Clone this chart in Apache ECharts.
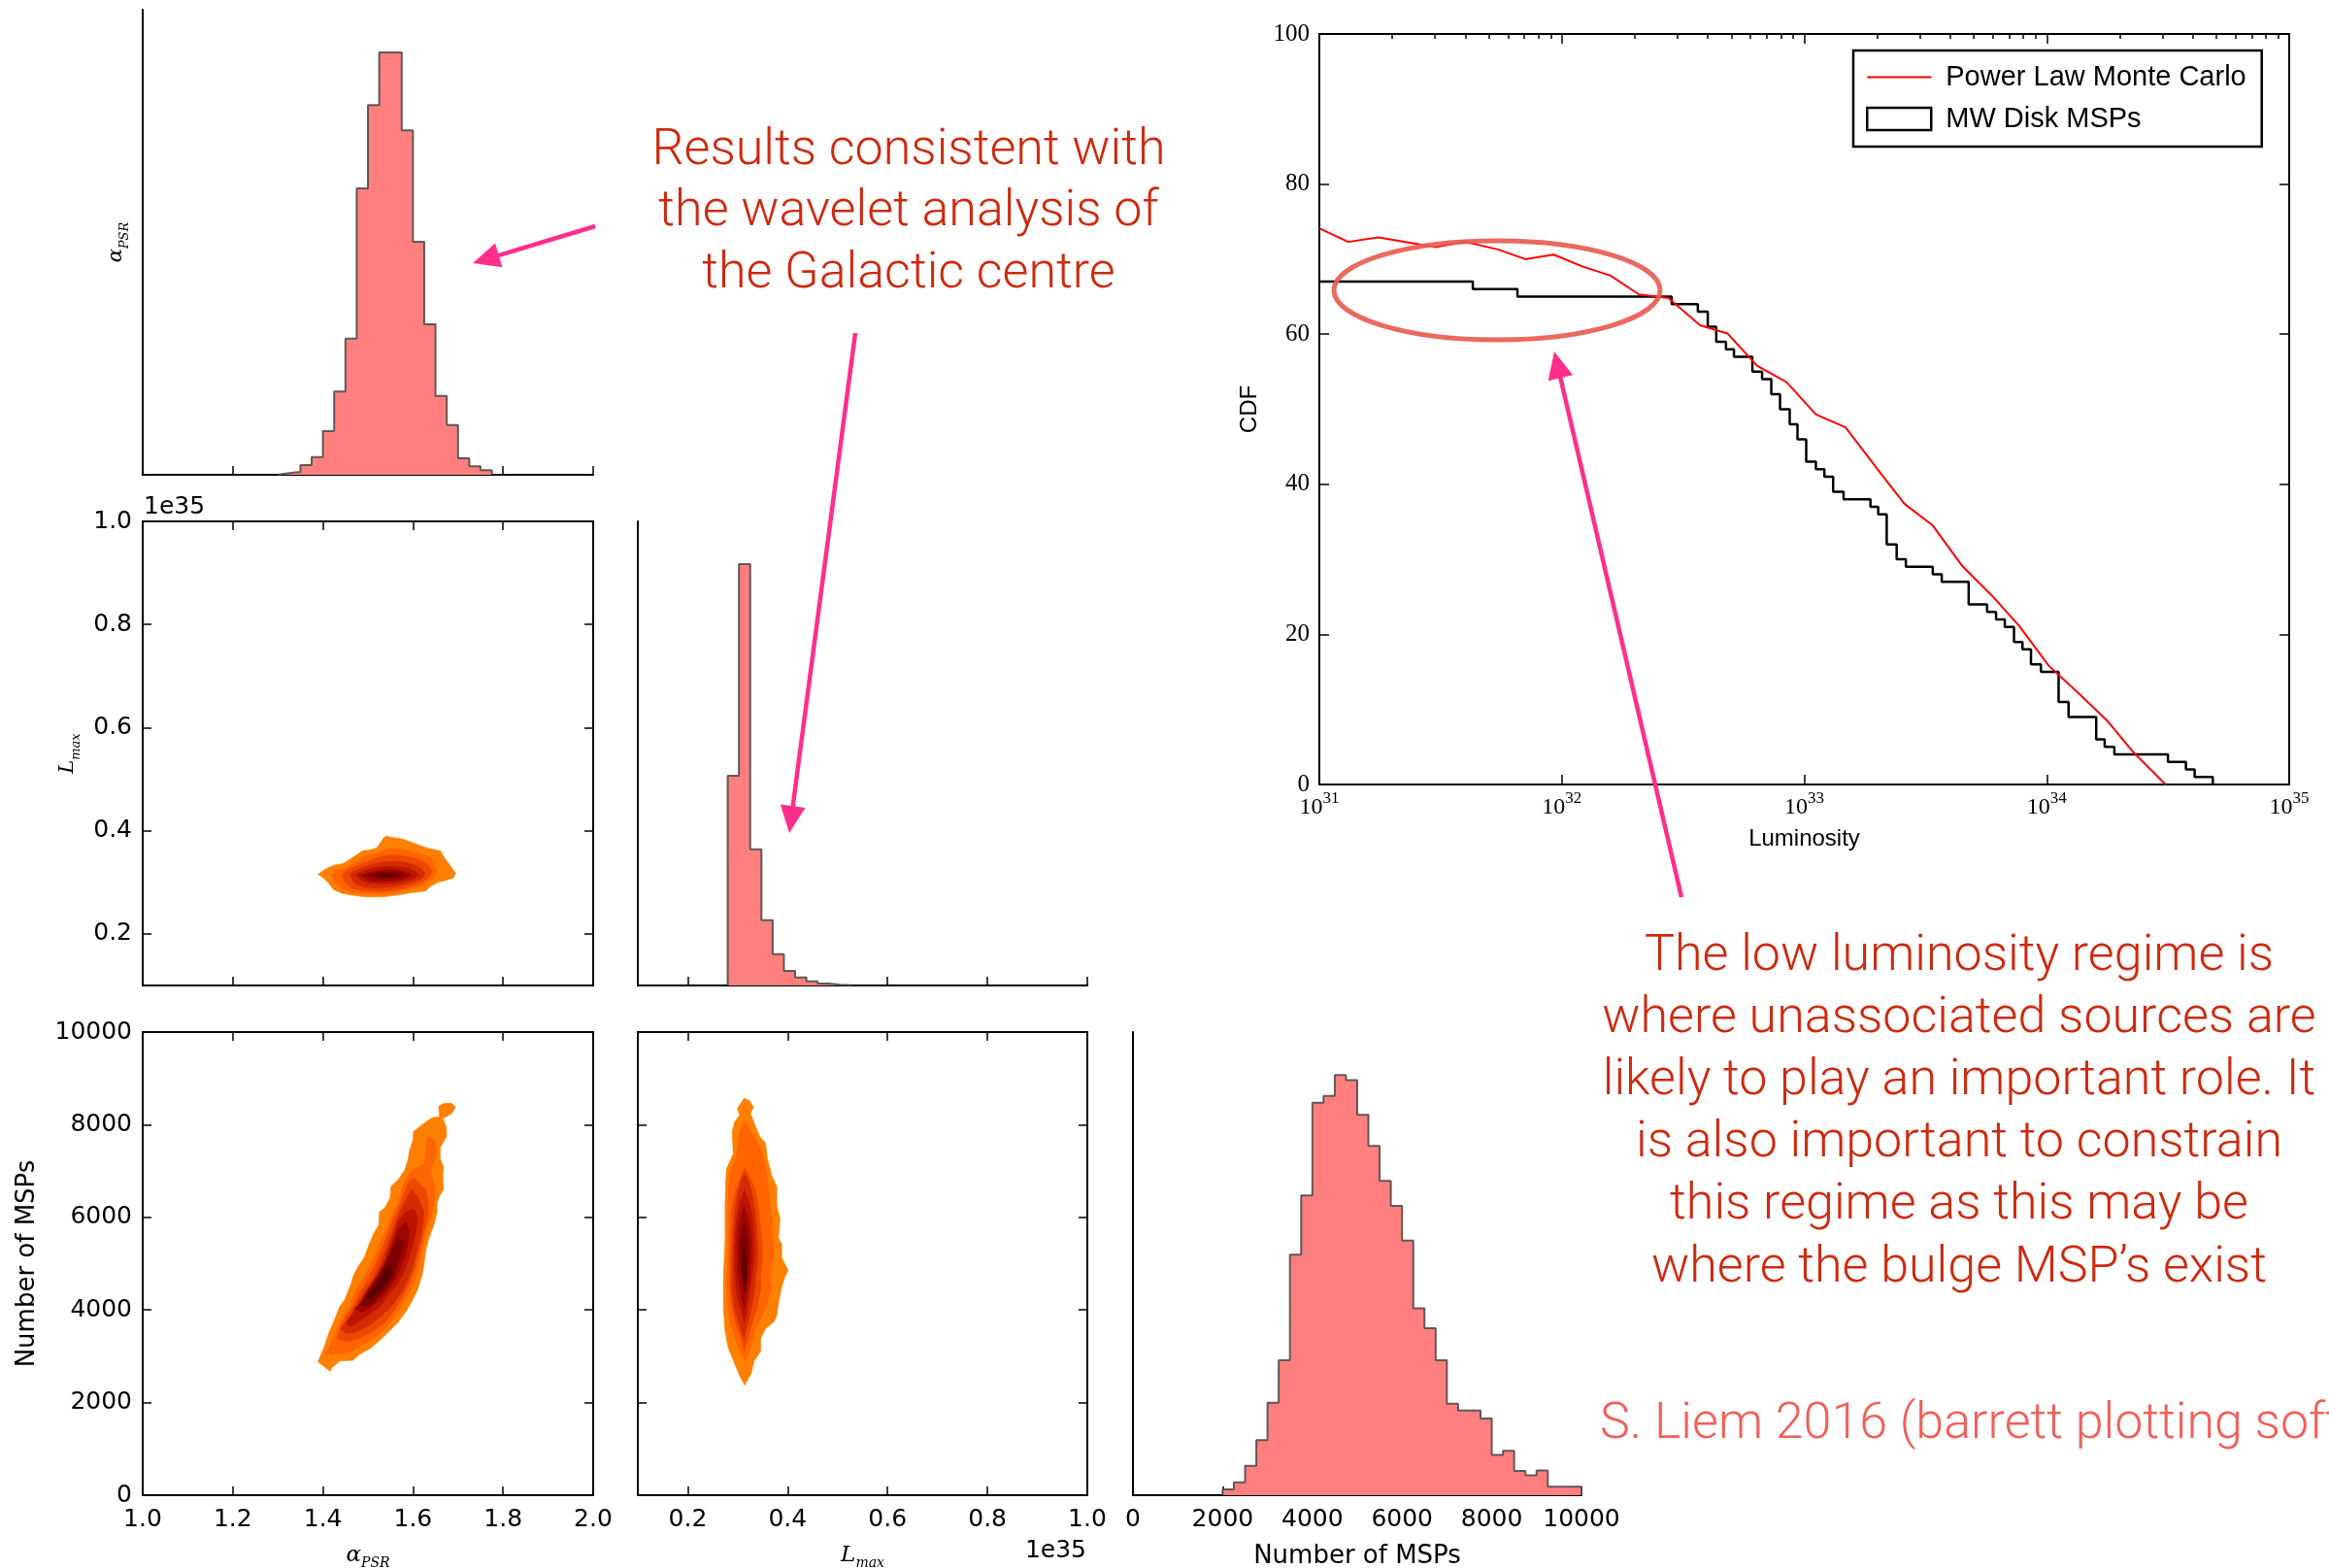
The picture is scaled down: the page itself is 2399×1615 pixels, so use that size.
<!DOCTYPE html>
<html><head><meta charset="utf-8">
<script src="https://cdn.jsdelivr.net/npm/echarts@6/dist/echarts.min.js"></script>
<style>html,body{margin:0;padding:0;background:#fff;overflow:hidden}#c{width:2399px;height:1615px}</style>
</head><body><div id="c"></div>
<script>
// ---------------- DATA ----------------
// alpha_PSR marginal histogram (bin edges, normalised counts)
const alphaBinEdges = [1.300,1.325,1.350,1.375,1.400,1.425,1.450,1.475,1.500,1.525,1.550,1.575,1.600,1.625,1.650,1.675,1.700,1.725,1.750,1.775];
const alphaCounts   = [5,9,30,55,135,257,421,885,1142,1305,1305,1064,720,465,244,154,51,26,14];
// L_max marginal histogram (units of 1e35)
const lmaxBinEdges = [0.2800,0.3025,0.3250,0.3475,0.3700,0.3925,0.4150,0.4375,0.4600,0.4825,0.5050,0.5275];
const lmaxCounts   = [649,1305,422,202,97,45,25,13,6,2,1];
// Number of MSPs marginal histogram
const nBinEdges = [2000,2250,2500,2750,3000,3250,3500,3750,4000,4250,4500,4750,5000,5250,5500,5750,6000,6250,6500,6750,7000,7250,7500,7750,8000,8250,8500,8750,9000,9250,9500,9750,10000];
const nCounts   = [18,40,91,171,287,419,746,930,1218,1239,1304,1288,1180,1084,975,898,790,580,518,419,284,263,263,238,125,138,75,62,77,26,26,26];
const histMax = 1437;

// Contours alpha_PSR vs L_max (outer -> inner levels)
const contourAlphaLmax = [
 [[1.389,0.3155],[1.4055,0.3255],[1.4235,0.333],[1.445,0.3362],[1.4666,0.3487],[1.4881,0.3612],[1.5061,0.3631],[1.5204,0.3675],[1.5348,0.3863],[1.5398,0.3894],[1.5599,0.3863],[1.5815,0.3831],[1.5994,0.3769],[1.6138,0.3719],[1.6353,0.3656],[1.6604,0.3612],[1.6712,0.3456],[1.682,0.3331],[1.6949,0.3174],[1.6891,0.308],[1.6712,0.3036],[1.6569,0.3005],[1.6389,0.2924],[1.6281,0.283],[1.5958,0.2799],[1.5671,0.2755],[1.5312,0.2717],[1.4953,0.2717],[1.4774,0.2736],[1.445,0.278],[1.4235,0.2861],[1.4127,0.2986],[1.402,0.308]],
 [[1.4199,0.3143],[1.4307,0.3237],[1.4522,0.3299],[1.4738,0.3393],[1.4953,0.3518],[1.5168,0.355],[1.542,0.3656],[1.5671,0.3656],[1.5886,0.3612],[1.6174,0.355],[1.6389,0.3487],[1.6461,0.3362],[1.6533,0.3205],[1.6461,0.3093],[1.6353,0.3018],[1.6174,0.2924],[1.5886,0.2861],[1.5599,0.2799],[1.524,0.2767],[1.4881,0.278],[1.4594,0.2817],[1.4379,0.2892],[1.4271,0.3018]],
 [[1.4415,0.3155],[1.4594,0.3268],[1.4809,0.3343],[1.5061,0.3425],[1.5312,0.3506],[1.5563,0.3531],[1.5815,0.3506],[1.6102,0.3456],[1.6317,0.3362],[1.6425,0.3205],[1.6353,0.3093],[1.6174,0.2986],[1.5886,0.2905],[1.5563,0.2842],[1.5204,0.2817],[1.4881,0.283],[1.463,0.2892],[1.4486,0.3018]],
 [[1.4594,0.3155],[1.4774,0.3255],[1.5025,0.3331],[1.5312,0.3393],[1.5599,0.3412],[1.5886,0.3381],[1.6138,0.3299],[1.6281,0.3174],[1.6174,0.3068],[1.5922,0.298],[1.5599,0.2918],[1.524,0.2892],[1.4917,0.2905],[1.4702,0.2986]],
 [[1.4738,0.3155],[1.4953,0.3237],[1.524,0.3299],[1.5563,0.3312],[1.5851,0.3281],[1.6066,0.3205],[1.6138,0.3143],[1.5994,0.3061],[1.5671,0.2986],[1.5312,0.2968],[1.4989,0.2986],[1.4809,0.3068]],
 [[1.4845,0.3143],[1.5097,0.3205],[1.5384,0.3249],[1.5671,0.3237],[1.5922,0.3174],[1.5958,0.313],[1.5743,0.3049],[1.5384,0.3018],[1.5061,0.303],[1.4917,0.3093]],
 [[1.4989,0.3143],[1.524,0.3187],[1.5527,0.3193],[1.5779,0.3155],[1.5671,0.3093],[1.5348,0.3068],[1.5097,0.3093]],
 [[1.5168,0.3143],[1.5384,0.3168],[1.5635,0.3155],[1.5527,0.3112],[1.5312,0.3105]]
];
// Contours alpha_PSR vs Number of MSPs
const contourAlphaN = [
 [[1.389,2884],[1.402,3177],[1.4127,3491],[1.4235,3736],[1.4379,4085],[1.4486,4225],[1.463,4574],[1.4666,4714],[1.4774,4923],[1.4917,5133],[1.5025,5412],[1.5133,5657],[1.524,5831],[1.5255,6110],[1.5384,6215],[1.5492,6425],[1.5513,6669],[1.5671,6809],[1.5815,7018],[1.5886,7228],[1.5922,7437],[1.5994,7647],[1.6016,7856],[1.6245,8031],[1.6425,8150],[1.659,8171],[1.6569,8401],[1.6676,8457],[1.6856,8464],[1.6942,8380],[1.6856,8241],[1.6662,8136],[1.6734,7961],[1.6748,7752],[1.6604,7507],[1.6604,7263],[1.6676,7088],[1.6662,6879],[1.6676,6599],[1.6604,6495],[1.6533,6320],[1.6533,6110],[1.6461,5831],[1.6353,5552],[1.6281,5272],[1.6245,4993],[1.621,4783],[1.6102,4434],[1.5958,4155],[1.5851,3980],[1.5671,3736],[1.5527,3596],[1.5312,3387],[1.5061,3177],[1.4809,3037],[1.4666,2912],[1.4379,2898],[1.4199,2758],[1.4163,2674]],
 [[1.4056,3037],[1.4235,3387],[1.4307,3596],[1.445,3876],[1.4594,4085],[1.4666,4295],[1.4774,4504],[1.4917,4714],[1.5025,4923],[1.5204,5272],[1.5312,5552],[1.542,5761],[1.5527,6041],[1.5671,6320],[1.5815,6809],[1.5994,7018],[1.6245,7158],[1.6281,7402],[1.6317,7717],[1.6461,7682],[1.6533,7507],[1.6461,7158],[1.6389,7018],[1.6425,6879],[1.6497,6599],[1.6461,6250],[1.6389,5971],[1.6281,5622],[1.621,5342],[1.6138,4993],[1.6066,4714],[1.5958,4434],[1.5743,4085],[1.5599,3876],[1.5384,3596],[1.5133,3387],[1.4881,3247],[1.4666,3121],[1.4379,3051]],
 [[1.4307,3387],[1.4415,3666],[1.4522,3876],[1.4666,4085],[1.4809,4364],[1.4953,4574],[1.5097,4853],[1.524,5133],[1.5348,5412],[1.5456,5691],[1.5563,5971],[1.5671,6180],[1.58,6529],[1.5886,6739],[1.603,6844],[1.6281,6599],[1.6353,6250],[1.6317,5971],[1.6245,5691],[1.6174,5412],[1.6102,5133],[1.603,4853],[1.5922,4574],[1.5779,4295],[1.5599,4015],[1.5384,3736],[1.5097,3526],[1.4809,3387],[1.4522,3317]],
 [[1.4379,3596],[1.4522,3736],[1.4666,3980],[1.4809,4225],[1.4953,4434],[1.5133,4714],[1.5276,4993],[1.5384,5272],[1.5492,5552],[1.5599,5831],[1.5707,6110],[1.5815,6320],[1.5958,6599],[1.6102,6460],[1.6245,6110],[1.621,5761],[1.6138,5482],[1.6066,5203],[1.5994,4923],[1.5886,4644],[1.5743,4364],[1.5527,4085],[1.5312,3876],[1.5025,3666],[1.4738,3526],[1.4522,3491]],
 [[1.4522,3736],[1.4666,3910],[1.4774,4085],[1.4917,4295],[1.5061,4504],[1.524,4783],[1.5348,5028],[1.5456,5307],[1.5563,5587],[1.5671,5901],[1.5815,6110],[1.603,6180],[1.6102,5971],[1.6066,5691],[1.5994,5412],[1.5922,5133],[1.5815,4853],[1.5671,4574],[1.5492,4364],[1.5276,4085],[1.4989,3876],[1.4774,3736],[1.4594,3631]],
 [[1.4702,4015],[1.4845,4155],[1.4953,4364],[1.5097,4574],[1.524,4783],[1.5384,5028],[1.5492,5272],[1.5599,5552],[1.5671,5761],[1.5851,5901],[1.5922,5691],[1.5886,5412],[1.5815,5133],[1.5707,4853],[1.5599,4644],[1.5456,4434],[1.5276,4225],[1.5097,4085],[1.4881,3945]],
 [[1.4809,4085],[1.4953,4295],[1.5097,4504],[1.524,4714],[1.5348,4923],[1.5456,5098],[1.5563,5342],[1.5671,5552],[1.5779,5482],[1.5743,5203],[1.5635,4923],[1.5563,4714],[1.542,4504],[1.524,4295],[1.5025,4085]],
 [[1.4953,4295],[1.5061,4434],[1.524,4574],[1.5312,4714],[1.5398,4888],[1.5492,4993],[1.5527,4818],[1.5456,4644],[1.5348,4504],[1.5204,4364],[1.5061,4225]]
];
// Contours L_max vs Number of MSPs
const contourLmaxN = [
 [[0.3123,8569],[0.3233,8520],[0.3317,8380],[0.3252,8241],[0.3297,8136],[0.3395,7856],[0.3459,7717],[0.3556,7612],[0.3589,7298],[0.3686,6879],[0.3783,6669],[0.3783,6250],[0.3847,5971],[0.3815,5552],[0.388,5412],[0.388,5133],[0.3977,4923],[0.4009,4853],[0.3944,4714],[0.388,4504],[0.3815,4155],[0.3783,3876],[0.3718,3736],[0.3556,3596],[0.3459,3387],[0.3459,3107],[0.333,2898],[0.3265,2618],[0.3136,2374],[0.3039,2583],[0.2942,2828],[0.2812,3177],[0.2748,3526],[0.2715,4015],[0.2715,4714],[0.2748,5552],[0.2748,6250],[0.276,6809],[0.278,7053],[0.2909,7368],[0.289,7856],[0.2942,8066],[0.3039,8206],[0.2993,8345]],
 [[0.3136,8101],[0.3233,7926],[0.333,7752],[0.3459,7472],[0.3524,7228],[0.3589,6879],[0.3621,6529],[0.3653,6250],[0.3686,5971],[0.3686,5622],[0.3718,5272],[0.3686,4993],[0.3653,4714],[0.3653,4434],[0.3589,4155],[0.3492,3876],[0.3362,3596],[0.3265,3247],[0.3168,2898],[0.3071,3037],[0.2974,3317],[0.2877,3596],[0.2812,4015],[0.278,4574],[0.2799,5272],[0.2812,5971],[0.2812,6599],[0.2845,6948],[0.2942,7228],[0.3006,7577],[0.3039,7856]],
 [[0.3136,7088],[0.3233,6879],[0.333,6669],[0.3395,6390],[0.3427,6110],[0.3459,5761],[0.3492,5412],[0.3492,5063],[0.3459,4714],[0.3459,4434],[0.3395,4085],[0.3297,3736],[0.32,3387],[0.3136,3107],[0.3071,3387],[0.2974,3666],[0.289,4015],[0.2845,4434],[0.2845,4993],[0.2857,5552],[0.2877,6110],[0.2942,6529],[0.3039,6809]],
 [[0.3136,6948],[0.3233,6739],[0.3297,6460],[0.3349,6110],[0.3382,5761],[0.3395,5412],[0.3395,5063],[0.3362,4714],[0.333,4364],[0.3265,4015],[0.3187,3666],[0.3123,3387],[0.3039,3666],[0.2942,4015],[0.289,4434],[0.289,4993],[0.2909,5552],[0.2942,6110],[0.3006,6529],[0.3071,6809]],
 [[0.3136,6599],[0.3233,6320],[0.3297,5971],[0.333,5552],[0.333,5133],[0.3297,4783],[0.3252,4434],[0.32,4085],[0.3136,3736],[0.3058,4015],[0.2974,4364],[0.2942,4853],[0.2942,5412],[0.2974,5901],[0.3039,6320]],
 [[0.3136,6250],[0.3213,5971],[0.3265,5552],[0.3265,5133],[0.3233,4714],[0.3187,4364],[0.3136,4015],[0.3058,4364],[0.3006,4783],[0.2993,5272],[0.3006,5691],[0.3071,6041]],
 [[0.3136,5901],[0.32,5552],[0.3213,5133],[0.3187,4714],[0.3149,4364],[0.309,4714],[0.3058,5133],[0.3058,5552]],
 [[0.3136,5412],[0.3175,4993],[0.3149,4434],[0.3103,4714],[0.3097,5063]]
];
// CDF panel: log10(luminosity) and CDF values
const powerLawLogL = [31.0,31.119,31.243,31.479,31.60,31.736,31.849,31.966,32.087,32.201,32.318,32.44,32.57,32.683,32.805,32.927,33.048,33.17,33.30,33.413,33.53,33.652,33.773,33.887,34.009,34.13,34.252,34.36,34.49];
const powerLawCDF  = [74.1,72.3,72.9,71.6,72.3,71.3,70.0,70.6,69.0,67.8,65.3,64.8,61.2,60.1,55.8,53.6,49.3,47.6,42.1,37.4,34.5,29.1,25.2,21.1,15.8,12.2,8.4,4.2,0];
const mwDiskLogL = [31.0,31.633,31.817,32.453,32.561,32.602,32.637,32.677,32.71,32.786,32.826,32.864,32.90,32.94,32.972,33.008,33.048,33.083,33.119,33.162,33.273,33.305,33.34,33.381,33.419,33.53,33.567,33.678,33.754,33.791,33.827,33.865,33.90,33.935,33.976,34.049,34.09,34.204,34.239,34.279,34.50,34.574,34.61,34.685];
const mwDiskCDF  = [67,66,65,64,63,61,59,58,57,55,54,52,50,48,46,43,42,41,39,38,37,36,32,30,29,28,27,24,23,22,21,19,18,16,15,11,9,6,5,4,3,2,1,0];

const lmaxTicks = [0.2,0.4,0.6,0.8,1.0];
const cdfMinorTicks = [];
for (let d = 31; d < 35; d++) for (let k = 2; k <= 9; k++) cdfMinorTicks.push(k * Math.pow(10, d));

// ---------------- STYLE ----------------
const contourColors = ['#ff7f00','#ff6400','#ec4800','#d42c00','#bb1500','#a00600','#7e0000','#5a0000'];
const SANS = 'DejaVu Sans';
const SERIF = 'Liberation Serif';
const RED_TXT = '#cd2a0f';
const PINK = '#ff2e8c';

function histSteps(edges, counts) {
  const pts = [[edges[0], 0]];
  counts.forEach((c, i) => pts.push([edges[i], c]));
  pts.push([edges[edges.length - 1], 0]);
  return pts;
}
const mathRich = {
  a: {fontFamily: 'DejaVu Serif', fontStyle: 'italic', fontSize: 23, lineHeight: 30, verticalAlign: 'middle', color: '#000'},
  s: {fontFamily: 'DejaVu Serif', fontStyle: 'italic', fontSize: 14, lineHeight: 30, verticalAlign: 'bottom', color: '#000'}
};
function ax(o) {
  const base = {
    type: 'value',
    axisLine: {show: true, onZero: false, lineStyle: {color: '#000', width: 2}},
    axisTick: {show: true, inside: true, length: 9, lineStyle: {color: '#000', width: 1.5}},
    axisLabel: {show: false, color: '#000', fontFamily: SANS, fontSize: 25, margin: 13},
    splitLine: {show: false},
    nameMoveOverlap: false
  };
  const r = Object.assign({}, base, o);
  if (o.axisTick) r.axisTick = Object.assign({}, base.axisTick, o.axisTick);
  if (o.axisLabel) r.axisLabel = Object.assign({}, base.axisLabel, o.axisLabel);
  if (o.axisLine) r.axisLine = Object.assign({}, base.axisLine, o.axisLine);
  return r;
}
const f1 = v => v.toFixed(1);
const fInt = v => String(Math.round(v));
const alphaAx = {min: 1, max: 2, interval: 0.2};
const lmaxAx = {min: 0.1, max: 1.0, interval: 0.1};
const nAx = {min: 0, max: 10000, interval: 2000};
const histY = {min: 0, max: histMax, axisTick: {show: false}};

function contourSeries(xi, yi, levels) {
  return {
    type: 'custom', xAxisIndex: xi, yAxisIndex: yi, clip: true, silent: true, z: 2,
    data: levels.map((p, i) => [p[0][0], p[0][1], i]),
    renderItem: (params, api) => {
      const k = api.value(2);
      return {type: 'polygon', shape: {points: levels[k].map(p => api.coord(p))},
        style: {fill: contourColors[k], stroke: contourColors[k], lineWidth: 0.6}};
    }
  };
}
function histSeries(xi, yi, edges, counts) {
  return {
    type: 'line', xAxisIndex: xi, yAxisIndex: yi, step: 'end', symbol: 'none', silent: true,
    data: histSteps(edges, counts),
    lineStyle: {color: 'rgba(70,70,70,0.85)', width: 2},
    areaStyle: {color: '#ff7f7f', opacity: 1}, z: 2
  };
}
function arrow(sx, sy, tx, ty) {
  const dx = tx - sx, dy = ty - sy, L = Math.hypot(dx, dy), ux = dx / L, uy = dy / L;
  const hl = 28, hw = 13, bx = tx - ux * hl, by = ty - uy * hl;
  return [
    {type: 'line', shape: {x1: sx, y1: sy, x2: bx + ux * 3, y2: by + uy * 3}, style: {stroke: PINK, lineWidth: 4.5}, z: 100},
    {type: 'polygon', shape: {points: [[tx, ty], [bx - uy * hw, by + ux * hw], [bx + uy * hw, by - ux * hw]]}, style: {fill: PINK}, z: 100}
  ];
}

const gridBase = {outerBoundsMode: 'none', containLabel: false};
const option = {
  animation: false,
  backgroundColor: '#fff',
  grid: [
    Object.assign({left: 147, top: 10, width: 464, height: 479}, gridBase),
    Object.assign({left: 147, top: 537, width: 464, height: 478}, gridBase),
    Object.assign({left: 657, top: 537, width: 463, height: 478}, gridBase),
    Object.assign({left: 147, top: 1063, width: 464, height: 477}, gridBase),
    Object.assign({left: 657, top: 1063, width: 463, height: 477}, gridBase),
    Object.assign({left: 1167, top: 1063, width: 462, height: 477}, gridBase),
    Object.assign({left: 1359, top: 35, width: 999, height: 773}, gridBase)
  ],
  xAxis: [
    ax(Object.assign({gridIndex: 0}, alphaAx)),                                   // 0
    ax(Object.assign({gridIndex: 1}, alphaAx)),                                   // 1
    ax(Object.assign({gridIndex: 1, position: 'top'}, alphaAx)),                  // 2
    ax(Object.assign({gridIndex: 2, axisTick: {customValues: lmaxTicks}}, lmaxAx)), // 3
    ax(Object.assign({gridIndex: 3, axisLabel: {show: true, formatter: f1},
      name: '{a|α}{s|PSR}', nameLocation: 'middle', nameGap: 47, nameTextStyle: {rich: mathRich}}, alphaAx)), // 4
    ax(Object.assign({gridIndex: 3, position: 'top'}, alphaAx)),                  // 5
    ax(Object.assign({gridIndex: 4, axisTick: {customValues: lmaxTicks},
      axisLabel: {show: true, formatter: f1, customValues: lmaxTicks},
      name: '{a|L}{s|max}', nameLocation: 'middle', nameGap: 47, nameTextStyle: {rich: mathRich}}, lmaxAx)), // 6
    ax(Object.assign({gridIndex: 4, position: 'top', axisTick: {customValues: lmaxTicks}}, lmaxAx)), // 7
    ax(Object.assign({gridIndex: 5, axisLabel: {show: true, formatter: fInt},
      name: 'Number of MSPs', nameLocation: 'middle', nameGap: 50,
      nameTextStyle: {fontFamily: SANS, fontSize: 26, color: '#000'}}, nAx)),     // 8
    ax({gridIndex: 6, type: 'log', logBase: 10, min: 1e31, max: 1e35,
      axisTick: {length: 10},
      axisLabel: {show: true, margin: 6,
        formatter: v => '{b|10}{s|' + Math.round(Math.log10(v)) + '}',
        rich: {b: {fontFamily: SERIF, fontSize: 24, lineHeight: 30, verticalAlign: 'bottom', color: '#000'},
               s: {fontFamily: SERIF, fontSize: 17, lineHeight: 30, verticalAlign: 'top', color: '#000'}}},
      name: 'Luminosity', nameLocation: 'middle', nameGap: 44,
      nameTextStyle: {fontFamily: 'Liberation Sans', fontSize: 24, color: '#000'}}), // 9
    ax({gridIndex: 6, type: 'log', logBase: 10, min: 1e31, max: 1e35, axisLine: {show: false},
      axisTick: {length: 5, customValues: cdfMinorTicks}}),                       // 10
    ax({gridIndex: 6, type: 'log', logBase: 10, min: 1e31, max: 1e35, position: 'top',
      axisTick: {length: 10}}),                                                   // 11
    ax({gridIndex: 6, type: 'log', logBase: 10, min: 1e31, max: 1e35, position: 'top', axisLine: {show: false},
      axisTick: {length: 5, customValues: cdfMinorTicks}})                        // 12
  ],
  yAxis: [
    ax(Object.assign({gridIndex: 0, name: '{a|α}{s|PSR}', nameLocation: 'middle', nameGap: 12,
      nameTextStyle: {rich: {a: Object.assign({}, mathRich.a, {fontSize: 21}), s: Object.assign({}, mathRich.s, {fontSize: 13})}}}, histY)), // 0
    ax(Object.assign({gridIndex: 1, axisTick: {customValues: lmaxTicks},
      axisLabel: {show: true, formatter: f1, customValues: lmaxTicks, margin: 11},
      name: '{a|L}{s|max}', nameLocation: 'middle', nameGap: 62,
      nameTextStyle: {rich: {a: Object.assign({}, mathRich.a, {fontSize: 21}), s: Object.assign({}, mathRich.s, {fontSize: 13})}}}, lmaxAx)), // 1
    ax(Object.assign({gridIndex: 1, position: 'right', axisTick: {customValues: lmaxTicks}}, lmaxAx)), // 2
    ax(Object.assign({gridIndex: 2}, histY)),                                     // 3
    ax(Object.assign({gridIndex: 3, axisLabel: {show: true, margin: 11, formatter: fInt},
      name: 'Number of MSPs', nameLocation: 'middle', nameGap: 106,
      nameTextStyle: {fontFamily: SANS, fontSize: 26, color: '#000'}}, nAx)),     // 4
    ax(Object.assign({gridIndex: 3, position: 'right'}, nAx)),                    // 5
    ax(Object.assign({gridIndex: 4}, nAx)),                                       // 6
    ax(Object.assign({gridIndex: 4, position: 'right'}, nAx)),                    // 7
    ax(Object.assign({gridIndex: 5}, histY)),                                     // 8
    ax({gridIndex: 6, min: 0, max: 100, interval: 20, axisTick: {length: 10},
      axisLabel: {show: true, fontFamily: SERIF, fontSize: 25, margin: 10},
      name: 'CDF', nameLocation: 'middle', nameGap: 60,
      nameTextStyle: {fontFamily: 'Liberation Sans', fontSize: 24, color: '#000'}}), // 9
    ax({gridIndex: 6, min: 0, max: 100, interval: 20, position: 'right', axisTick: {length: 10}}) // 10
  ],
  legend: {
    show: true, orient: 'vertical', left: 1909, top: 52, selectedMode: false,
    padding: [13, 16, 14, 13], itemGap: 14, itemWidth: 66, itemHeight: 23,
    borderColor: '#000', borderWidth: 2.5, backgroundColor: '#fff',
    textStyle: {fontFamily: 'Liberation Sans', fontSize: 29, color: '#000', padding: [0, 0, 0, 10]},
    data: [
      {name: 'Power Law Monte Carlo', itemStyle: {color: 'rgba(0,0,0,0)', borderWidth: 0, opacity: 0}},
      {name: 'MW Disk MSPs', icon: 'rect', itemStyle: {color: 'rgba(255,255,255,0)', borderColor: '#000', borderWidth: 2.5}}
    ]
  },
  series: [
    histSeries(0, 0, alphaBinEdges, alphaCounts),
    contourSeries(1, 1, contourAlphaLmax),
    histSeries(3, 3, lmaxBinEdges, lmaxCounts),
    contourSeries(4, 4, contourAlphaN),
    contourSeries(6, 6, contourLmaxN),
    histSeries(8, 8, nBinEdges, nCounts),
    {name: 'Power Law Monte Carlo', type: 'line', xAxisIndex: 9, yAxisIndex: 9, symbol: 'none', silent: true,
      data: powerLawLogL.map((e, i) => [Math.pow(10, e), powerLawCDF[i]]),
      lineStyle: {color: '#ff0000', width: 2}, itemStyle: {color: '#ff0000'}, z: 3},
    {name: 'MW Disk MSPs', type: 'line', xAxisIndex: 9, yAxisIndex: 9, symbol: 'none', silent: true, step: 'end',
      data: mwDiskLogL.map((e, i) => [Math.pow(10, e), mwDiskCDF[i]]),
      lineStyle: {color: '#000', width: 2.5}, itemStyle: {color: '#000'}, z: 2}
  ],
  graphic: [
    {type: 'text', x: 148, y: 522, z: 100, style: {text: '1e35', fontFamily: SANS, fontSize: 25, fill: '#000', align: 'left', verticalAlign: 'middle'}},
    {type: 'text', x: 1119, y: 1597, z: 100, style: {text: '1e35', fontFamily: SANS, fontSize: 25, fill: '#000', align: 'right', verticalAlign: 'middle'}},
    {type: 'ellipse', z: 90, shape: {cx: 1542, cy: 299, rx: 168, ry: 51}, style: {fill: 'none', stroke: 'rgba(232,92,82,0.92)', lineWidth: 5}},
    {type: 'text', x: 936, y: 219, z: 100, style: {text: 'Results consistent with\nthe wavelet analysis of\nthe Galactic centre',
      fontFamily: 'Roboto', fontWeight: 300, fontSize: 52, lineHeight: 63.5, fill: RED_TXT, align: 'center', verticalAlign: 'middle'}},
    {type: 'text', x: 2018, y: 1146, z: 100, style: {text: 'The low luminosity regime is\nwhere unassociated sources are\nlikely to play an important role. It\nis also important to constrain\nthis regime as this may be\nwhere the bulge MSP\u2019s exist',
      fontFamily: 'Roboto', fontWeight: 300, fontSize: 52, lineHeight: 64.2, fill: RED_TXT, align: 'center', verticalAlign: 'middle'}},
    {type: 'text', x: 1648, y: 1468, z: 100, style: {text: 'S. Liem 2016 (barrett plotting software)',
      fontFamily: 'Roboto', fontWeight: 300, fontSize: 52, fill: '#f0605a', align: 'left', verticalAlign: 'middle'}}
  ].concat(arrow(613, 233, 487, 271), arrow(881, 343, 813, 858), arrow(1732, 924, 1601, 362))
};
const chart = echarts.init(document.getElementById('c'), null, {renderer: 'canvas', width: 2399, height: 1615});
chart.setOption(option);
</script></body></html>
